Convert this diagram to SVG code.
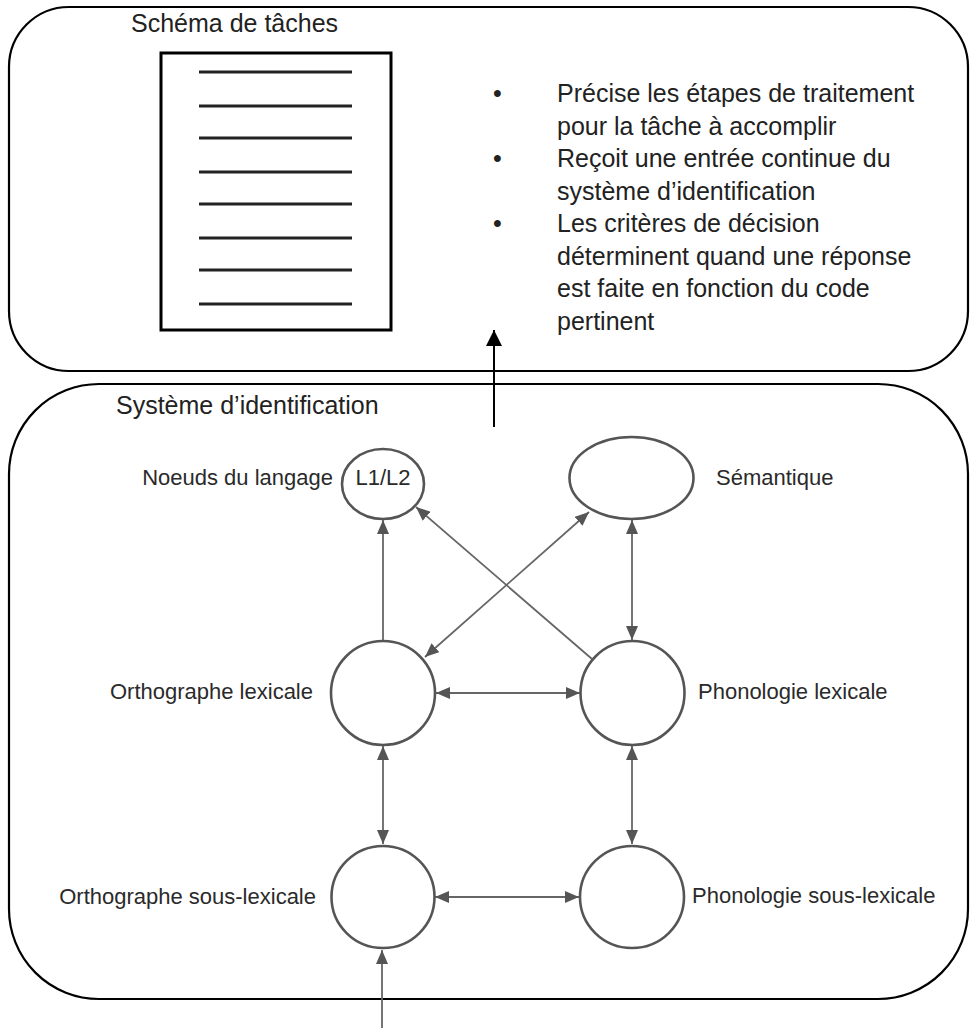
<svg xmlns="http://www.w3.org/2000/svg" width="971" height="1028" viewBox="0 0 971 1028">
  <defs>
    <marker id="ag" markerUnits="userSpaceOnUse" markerWidth="14" markerHeight="12" refX="14" refY="6" orient="auto-start-reverse">
      <path d="M0,0 L14,6 L0,12 Z" fill="#555"/>
    </marker>
    <marker id="ab" markerUnits="userSpaceOnUse" markerWidth="16" markerHeight="16" refX="16" refY="8" orient="auto-start-reverse">
      <path d="M0,0 L16,8 L0,16 Z" fill="#000"/>
    </marker>
  </defs>
  <style>
    .box{fill:none;stroke:#000;stroke-width:2.2}
    .title{font-family:"Liberation Sans",Arial,sans-serif;font-size:25px;fill:#222}
    .lbl{font-family:"Liberation Sans",Arial,sans-serif;font-size:22px;fill:#2a2a2a}
    .node{fill:#fff;stroke:#555;stroke-width:2.6}
    .con{fill:none;stroke:#666;stroke-width:1.8}
    .doc{fill:#fff;stroke:#000;stroke-width:3}
    .dl{stroke:#222;stroke-width:3}
  </style>

  <g id="schema-taches">
    <rect class="box" x="9" y="7" width="959" height="364" rx="60" ry="60"/>
    <text class="title" x="131" y="32">Schéma de tâches</text>
    <rect class="doc" x="161" y="53" width="230" height="277"/>
    <line class="dl" x1="199" y1="72" x2="352" y2="72"/>
    <line class="dl" x1="199" y1="106" x2="352" y2="106"/>
    <line class="dl" x1="199" y1="138" x2="352" y2="138"/>
    <line class="dl" x1="199" y1="172" x2="352" y2="172"/>
    <line class="dl" x1="199" y1="204" x2="352" y2="204"/>
    <line class="dl" x1="199" y1="238" x2="352" y2="238"/>
    <line class="dl" x1="199" y1="270" x2="352" y2="270"/>
    <line class="dl" x1="199" y1="304" x2="352" y2="304"/>
    <g class="title">
      <text x="493" y="102">•</text>
      <text x="557" y="102">Précise les étapes de traitement</text>
      <text x="557" y="134.5">pour la tâche à accomplir</text>
      <text x="493" y="167">•</text>
      <text x="557" y="167">Reçoit une entrée continue du</text>
      <text x="557" y="199.5">système d’identification</text>
      <text x="493" y="232">•</text>
      <text x="557" y="232">Les critères de décision</text>
      <text x="557" y="264.5">déterminent quand une réponse</text>
      <text x="557" y="297">est faite en fonction du code</text>
      <text x="557" y="329.5">pertinent</text>
    </g>
  </g>

  <g id="systeme-identification">
    <rect class="box" x="9" y="384" width="959" height="615" rx="90" ry="90"/>
    <text class="title" x="116" y="414">Système d’identification</text>
  </g>

  <g id="connectors">
    <line class="con" x1="383" y1="641" x2="383" y2="520" marker-end="url(#ag)"/>
    <line class="con" x1="592" y1="659" x2="416" y2="507" marker-end="url(#ag)"/>
    <line class="con" x1="425" y1="657" x2="589" y2="512" marker-start="url(#ag)" marker-end="url(#ag)"/>
    <line class="con" x1="632" y1="520" x2="632" y2="640" marker-start="url(#ag)" marker-end="url(#ag)"/>
    <line class="con" x1="436" y1="693" x2="580" y2="693" marker-start="url(#ag)" marker-end="url(#ag)"/>
    <line class="con" x1="383" y1="746" x2="383" y2="844" marker-start="url(#ag)" marker-end="url(#ag)"/>
    <line class="con" x1="632" y1="746" x2="632" y2="844" marker-start="url(#ag)" marker-end="url(#ag)"/>
    <line class="con" x1="435" y1="897" x2="579" y2="897" marker-start="url(#ag)" marker-end="url(#ag)"/>
    <line class="con" x1="382" y1="1028" x2="382" y2="950" marker-end="url(#ag)"/>
    <line stroke="#000" stroke-width="2" x1="494" y1="427" x2="494" y2="330" marker-end="url(#ab)"/>
  </g>

  <g id="noeuds-langage">
    <ellipse class="node" cx="383" cy="484" rx="41" ry="35"/>
    <text class="lbl" x="383" y="485" text-anchor="middle">L1/L2</text>
    <text class="lbl" x="333" y="485" text-anchor="end">Noeuds du langage</text>
  </g>
  <g id="semantique">
    <ellipse class="node" cx="631.5" cy="478" rx="62" ry="41"/>
    <text class="lbl" x="716" y="485">Sémantique</text>
  </g>
  <g id="orthographe-lexicale">
    <ellipse class="node" cx="383" cy="693" rx="52" ry="52"/>
    <text class="lbl" x="313" y="699" text-anchor="end">Orthographe lexicale</text>
  </g>
  <g id="phonologie-lexicale">
    <ellipse class="node" cx="632.5" cy="693" rx="52" ry="52"/>
    <text class="lbl" x="698" y="699">Phonologie lexicale</text>
  </g>
  <g id="orthographe-sous-lexicale">
    <ellipse class="node" cx="383" cy="897" rx="51.5" ry="51"/>
    <text class="lbl" x="316" y="904" text-anchor="end">Orthographe sous-lexicale</text>
  </g>
  <g id="phonologie-sous-lexicale">
    <ellipse class="node" cx="632" cy="897" rx="52" ry="51"/>
    <text class="lbl" x="692" y="903">Phonologie sous-lexicale</text>
  </g>
</svg>
